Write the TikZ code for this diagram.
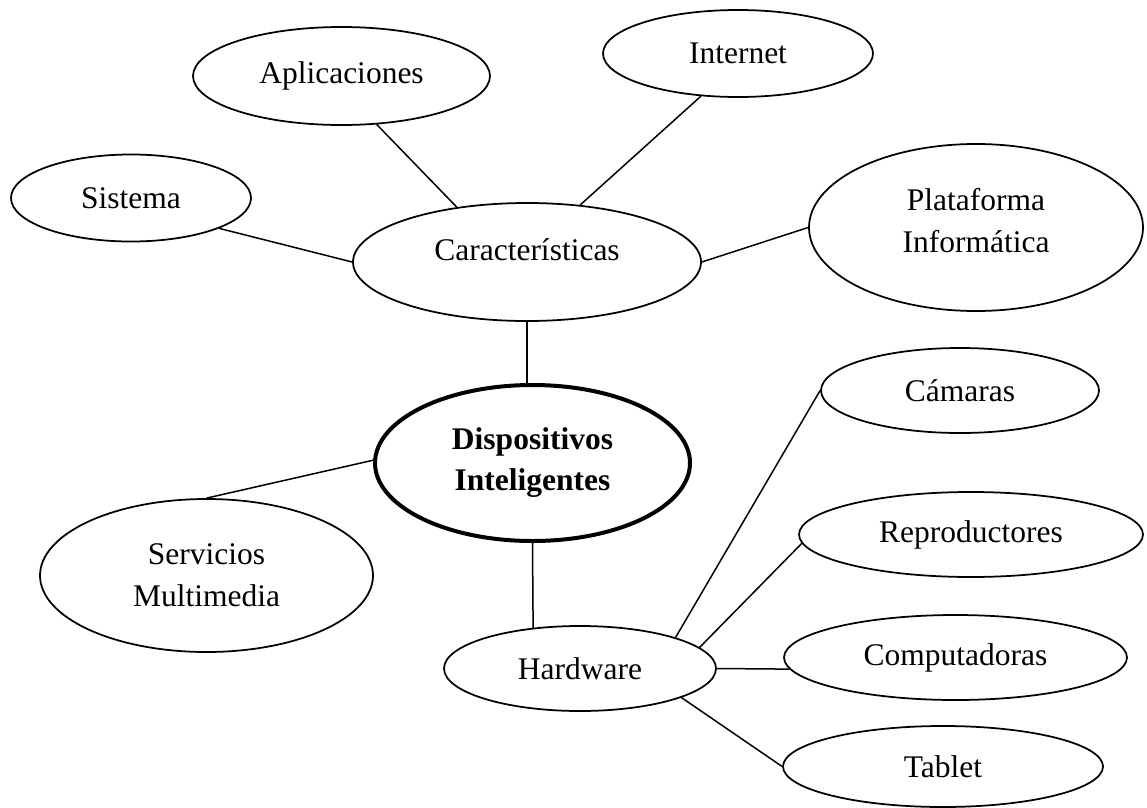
\documentclass[tikz,border=0pt]{standalone}
\usepackage{fontspec}
\setmainfont{Liberation Serif}
\usetikzlibrary{shapes.geometric}

\begin{document}
\begin{tikzpicture}[x=0.4pt,y=-0.4pt]
      \tikzset{
        every node/.style={ellipse,draw,line width=0.7pt,inner sep=0pt,align=center,
          font=\fontsize{12.6}{16.8}\selectfont},
        hub/.style={line width=1.6pt,font=\fontsize{12.6}{16.4}\selectfont\bfseries}
      }
      \useasboundingbox (0,0) rectangle (1147,807);

      \node[minimum width=96pt,minimum height=34.8pt] (sis) at (131,198) {Sistema};
      \node[minimum width=118.8pt,minimum height=39.2pt,text depth=2.4pt] (apl) at (341.5,76) {Aplicaciones};
      \node[minimum width=108pt,minimum height=34.8pt] (inet) at (738,53.5) {Internet};
      \node[minimum width=139.2pt,minimum height=47.2pt,text height=8.6pt,text depth=9.9pt] (car) at (527,262) {Características};
      \node[minimum width=133.6pt,minimum height=66.8pt,text depth=5.6pt] (plat) at (976,227.5) {Plataforma\\Informática};
      \node[hub,minimum width=126pt,minimum height=62.4pt] (disp) at (532.5,463) {Dispositivos\\Inteligentes};
      \node[minimum width=133.2pt,minimum height=61.2pt] (serv) at (206.5,575.5) {Servicios\\Multimedia};
      \node[minimum width=108.8pt,minimum height=34pt] (hw) at (580,668.5) {Hardware};
      \node[minimum width=111.2pt,minimum height=34pt] (cam) at (960,390.5) {Cámaras};
      \node[minimum width=137.6pt,minimum height=34pt] (rep) at (971,534.5) {Reproductores};
      \node[minimum width=137.2pt,minimum height=34pt] (comp) at (955.5,657.5) {Computadoras};
      \node[minimum width=128pt,minimum height=32.4pt] (tab) at (943,766.5) {Tablet};

      \draw[line width=0.6pt]
            (sis.-19) edge[] (car.west)
            (apl.-54) edge[] (car.142.6)
            (inet.229.6) edge[] (car.47)
            (car.east) edge[] (plat.west)
            (car.south) edge[] (car.south |- disp.north)
            (disp.179) edge[] (serv.north)
            (disp.south) edge[] (hw.139)
            (hw.18.5) edge[] (cam.west)
            (hw.10) edge[] (rep.183)
            (hw.east) edge[] (comp.184)
            (hw.-16) edge[] (tab.west);
    \end{tikzpicture}
\end{document}
